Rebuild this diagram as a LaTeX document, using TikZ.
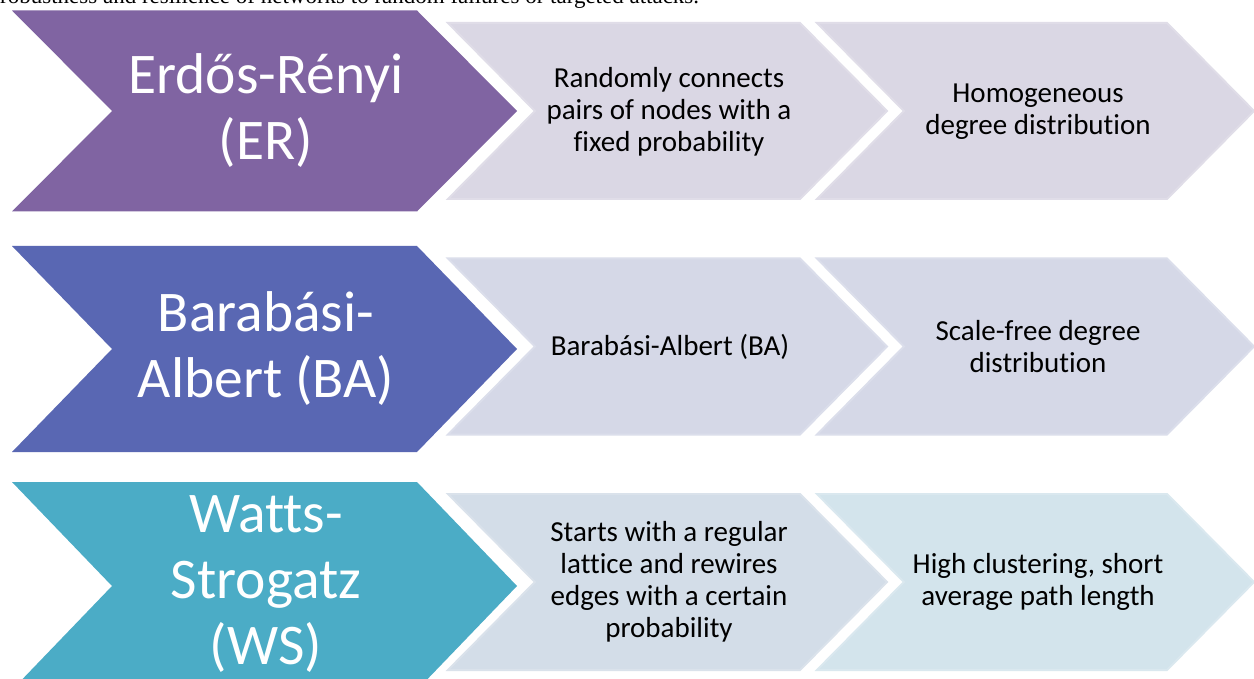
\documentclass[tikz,border=0pt]{standalone}
\usepackage{fontspec}
\setmainfont{Carlito}[Ligatures=NoCommon]
\newfontfamily\timesfont{Liberation Serif}
\definecolor{erc}{HTML}{8064A2}
\definecolor{bac}{HTML}{5967B3}
\definecolor{wsc}{HTML}{4BACC6}
\definecolor{g1}{HTML}{DAD7E4}
\definecolor{g2}{HTML}{D5D8E7}
\definecolor{g3a}{HTML}{D3DDE8}
\definecolor{g3b}{HTML}{D3E4EC}
\newcommand{\mychev}[6]{% L, S, C, H, D, style
  \path[#6] (#1,{#3-#4}) -- (#2,{#3-#4}) -- ({#2+#5},#3) -- (#2,{#3+#4}) -- (#1,{#3+#4}) -- ({#1+#5},#3) -- cycle;}
\tikzset{
  bigtxt/.style={text=white, align=center, font=\fontsize{57.5}{66}\selectfont, inner sep=0pt},
  smalltxt/.style={text=black, align=center, font=\fontsize{29}{32}\selectfont, inner sep=0pt},
  greybox/.style={fill=#1, draw=#1!85!white, line width=2pt, line join=miter}
}
\begin{document}
\begin{tikzpicture}[x=1pt,y=-1pt]
\useasboundingbox[fill=white] (0,0) rectangle (1254,679);
% cut-off caption line at the top
\node[anchor=base west, inner sep=0pt, font=\timesfont\fontsize{23}{27}\selectfont] (cap) at (0,4)
  {robustness and resilience of networks to random failures or targeted attacks.};
% row 1
\mychev{12}{417}{111}{100.5}{100}{fill=erc}
\mychev{448}{800}{111}{88}{87}{greybox=g1}
\mychev{817}{1167}{111}{88}{87}{greybox=g1}
\node[bigtxt] (er) at (266,111) {Erdős-Rényi\\(ER)};
\node[smalltxt] (er1) at (669,112) {Randomly connects\\pairs of nodes with a\\fixed probability};
\node[smalltxt] (er2) at (1038,112) {Homogeneous\\degree distribution};
% row 2
\mychev{12}{417}{349}{103}{100}{fill=bac}
\mychev{448}{800}{346.5}{88}{87}{greybox=g2}
\mychev{817}{1167}{346.5}{88}{87}{greybox=g2}
\node[bigtxt] (ba) at (266,349) {Barabási-\\Albert (BA)};
\node[smalltxt] (ba1) at (670,347) {Barabási-Albert (BA)};
\node[smalltxt] (ba2) at (1038,346.5) {Scale-free degree\\distribution};
% row 3
\mychev{12}{417}{586}{104}{100}{fill=wsc}
\mychev{448}{800}{582}{88}{87}{greybox=g3a}
\mychev{817}{1167}{582}{88}{87}{greybox=g3b}
\node[bigtxt] (ws) at (266,584) {Watts-\\Strogatz\\(WS)};
\node[smalltxt] (ws1) at (669,582) {Starts with a regular\\lattice and rewires\\edges with a certain\\probability};
\node[smalltxt] (ws2) at (1038,582) {High clustering, short\\average path length};
\end{tikzpicture}
\end{document}
